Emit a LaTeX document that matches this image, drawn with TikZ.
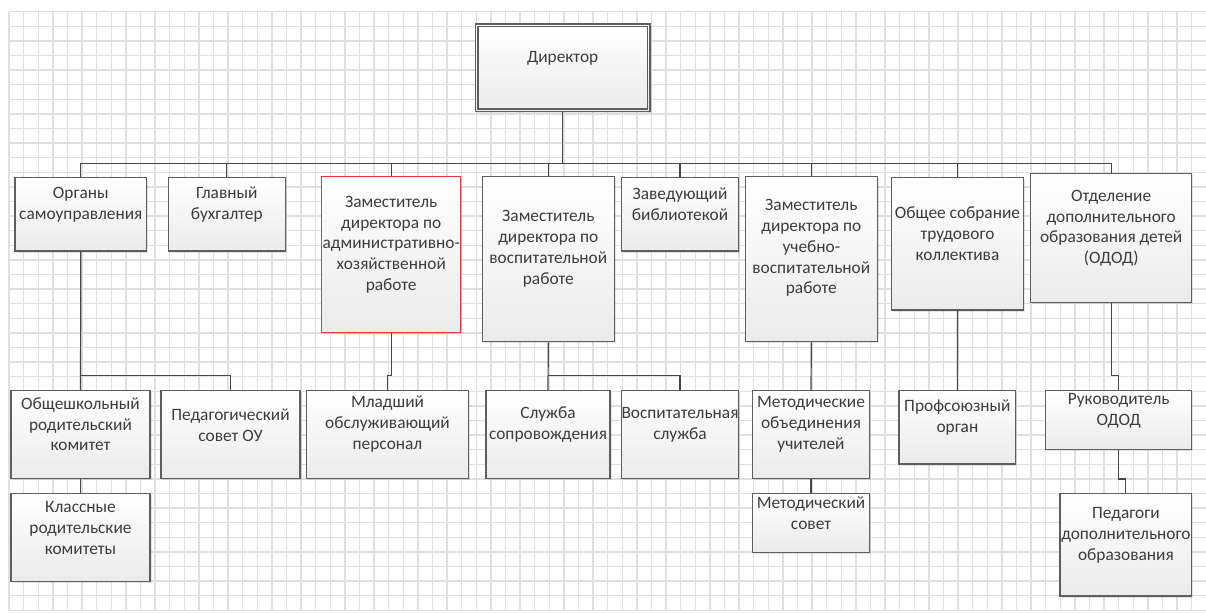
\documentclass[tikz,border=0pt]{standalone}
\usepackage{fontspec}
\setmainfont{Carlito}
\usetikzlibrary{fit,calc,shadows}
\definecolor{gridc}{HTML}{E0E0E0}
\definecolor{edgec}{HTML}{5E5E5E}
\definecolor{linec}{HTML}{474747}
\definecolor{textc}{HTML}{3C3C3C}
\definecolor{redc}{HTML}{E8363A}
\definecolor{shadec}{HTML}{EBEBEB}

\begin{document}
\begin{tikzpicture}[x=0.75pt,y=-0.75pt,
  gridline/.style={draw=gridc, line width=1.05pt},
  unitbox/.style={draw=edgec, line width=1.1pt, top color=white, bottom color=shadec,
    inner sep=0pt, drop shadow={shadow xshift=1.3pt, shadow yshift=-1.3pt, opacity=0.1, fill=black}},
  redbox/.style={unitbox, draw=redc, line width=0.9pt},
  lbl/.style={text=textc, align=center, inner sep=0pt, font=\fontsize{13}{15.6}\selectfont},
  link/.style={draw=linec, line width=0.9pt}
]
\useasboundingbox (0,0) rectangle (1206,612);
\fill[white] (0,0) rectangle (1206,612);

% background grid
\foreach \i in {0,...,82} \draw[gridline] ({9+14.6*\i},11.7) -- ({9+14.6*\i},610.3);
\foreach \j in {0,...,41} \draw[gridline] (9,{11.7+14.6*\j}) -- (1206,{11.7+14.6*\j});

% director
\node[unitbox, fit={(475.3,24)(650,111.7)}] (dir) {};
\draw[draw=edgec, line width=1.1pt] ($(dir.north west)+(3.4,3.4)$) rectangle ($(dir.south east)+(-3.4,-3.4)$);
\node[lbl] (dir-t) at (562.7,58) {Директор};

% first row
\node[unitbox, fit={(15,177.7)(146.7,251)}] (org) {};
\node[unitbox, fit={(168.3,177.7)(285.3,251)}] (glav) {};
\node[redbox, fit={(321.7,176.7)(460.7,332.3)}] (ahr) {};
\node[unitbox, fit={(482.3,176.7)(614.3,341.7)}] (vr) {};
\node[unitbox, fit={(621.7,177.7)(738.3,251)}] (bib) {};
\node[unitbox, fit={(745.3,176.7)(877.3,341.7)}] (uvr) {};
\node[unitbox, fit={(891.7,177.7)(1023.3,310)}] (obs) {};
\node[unitbox, fit={(1030.7,173.3)(1191.7,302.7)}] (odod) {};

\node[lbl] (org-t) at (80.8,204.7) {Органы\\самоуправления};
\node[lbl] (glav-t) at (226.8,204.5) {Главный\\бухгалтер};
\node[lbl] (ahr-t) at (391.2,244.7) {Заместитель\\директора по\\административно-\\хозяйственной\\работе};
\node[lbl] (vr-t) at (548.3,248.7) {Заместитель\\директора по\\воспитательной\\работе};
\node[lbl] (bib-t) at (680,204.2) {Заведующий\\библиотекой};
\node[lbl] (uvr-t) at (811.3,248) {Заместитель\\директора по\\учебно-\\воспитательной\\работе};
\node[lbl] (obs-t) at (957.5,233.7) {Общее собрание\\трудового\\коллектива};
\node[lbl] (odod-t) at (1111.2,228.2) {Отделение\\дополнительного\\образования детей\\(ОДОД)};

% second row
\node[unitbox, fit={(11,390.7)(150,478.3)}] (obsh) {};
\node[unitbox, fit={(161,390.7)(300,478.3)}] (ped) {};
\node[unitbox, fit={(11,493.3)(150,581.7)}] (klass) {};
\node[unitbox, fit={(306.7,390.7)(468.3,478.3)}] (mlad) {};
\node[unitbox, fit={(486,390.7)(610,478.3)}] (sopr) {};
\node[unitbox, fit={(621.7,390.7)(738.3,478.3)}] (vosp) {};
\node[unitbox, fit={(752.7,390.7)(869.3,478.3)}] (mo) {};
\node[unitbox, fit={(752.7,493.3)(869.3,552.3)}] (ms) {};
\node[unitbox, fit={(899,390.7)(1015.7,464)}] (prof) {};
\node[unitbox, fit={(1045.7,390.7)(1191.7,449.3)}] (ruk) {};
\node[unitbox, fit={(1060,493.3)(1191.7,596)}] (pdo) {};

\node[lbl] (obsh-t) at (80.5,424.2) {Общешкольный\\родительский\\комитет};
\node[lbl] (ped-t) at (230.5,424.8) {Педагогический\\совет ОУ};
\node[lbl] (klass-t) at (80.5,527.7) {Классные\\родительские\\комитеты};
\node[lbl] (mlad-t) at (387.5,424.2) {Младший\\обслуживающий\\персонал};
\node[lbl] (sopr-t) at (548,424.7) {Служба\\сопровождения};
\node[lbl] (vosp-t) at (680,424.7) {Воспитательная\\служба};
\node[lbl] (mo-t) at (811,424.2) {Методические\\объединения\\учителей};
\node[lbl] (ms-t) at (811,513) {Методический\\совет};
\node[lbl] (prof-t) at (957.4,417.2) {Профсоюзный\\орган};
\node[lbl] (ruk-t) at (1118.7,410.5) {Руководитель\\ОДОД};
\node[lbl] (pdo-t) at (1125.9,535.3) {Педагоги\\дополнительного\\образования};

% connectors
\coordinate (bus) at (0,163.3);
\coordinate (row2) at (0,375.7);
\draw[link] (dir.south) -- (dir.south |- bus);
\draw[link] (org.north) -- (org.north |- bus) -| (odod.north);
\foreach \n in {glav,ahr,vr,bib,uvr,obs}
  \draw[link] (\n.north) -- (\n.north |- bus);

\draw[link] (org.south) -- (obsh.north);
\draw[link] (org.south |- row2) -| (ped.north);
\draw[link] (obsh.south) -- (klass.north);
\draw[link] (ahr.south) -- (ahr.south |- row2) -| (mlad.north);
\draw[link] (vr.south) -- (sopr.north);
\draw[link] (vr.south |- row2) -| (vosp.north);
\draw[link] (uvr.south) -- (mo.north);
\draw[link] (mo.south) -- (ms.north);
\draw[link] (obs.south) -- (prof.north);
\draw[link] (odod.south) -- (odod.south |- row2) -| (ruk.north);
\draw[link] (ruk.south) -- ++(0,29) -| (pdo.north);
\end{tikzpicture}
\end{document}
